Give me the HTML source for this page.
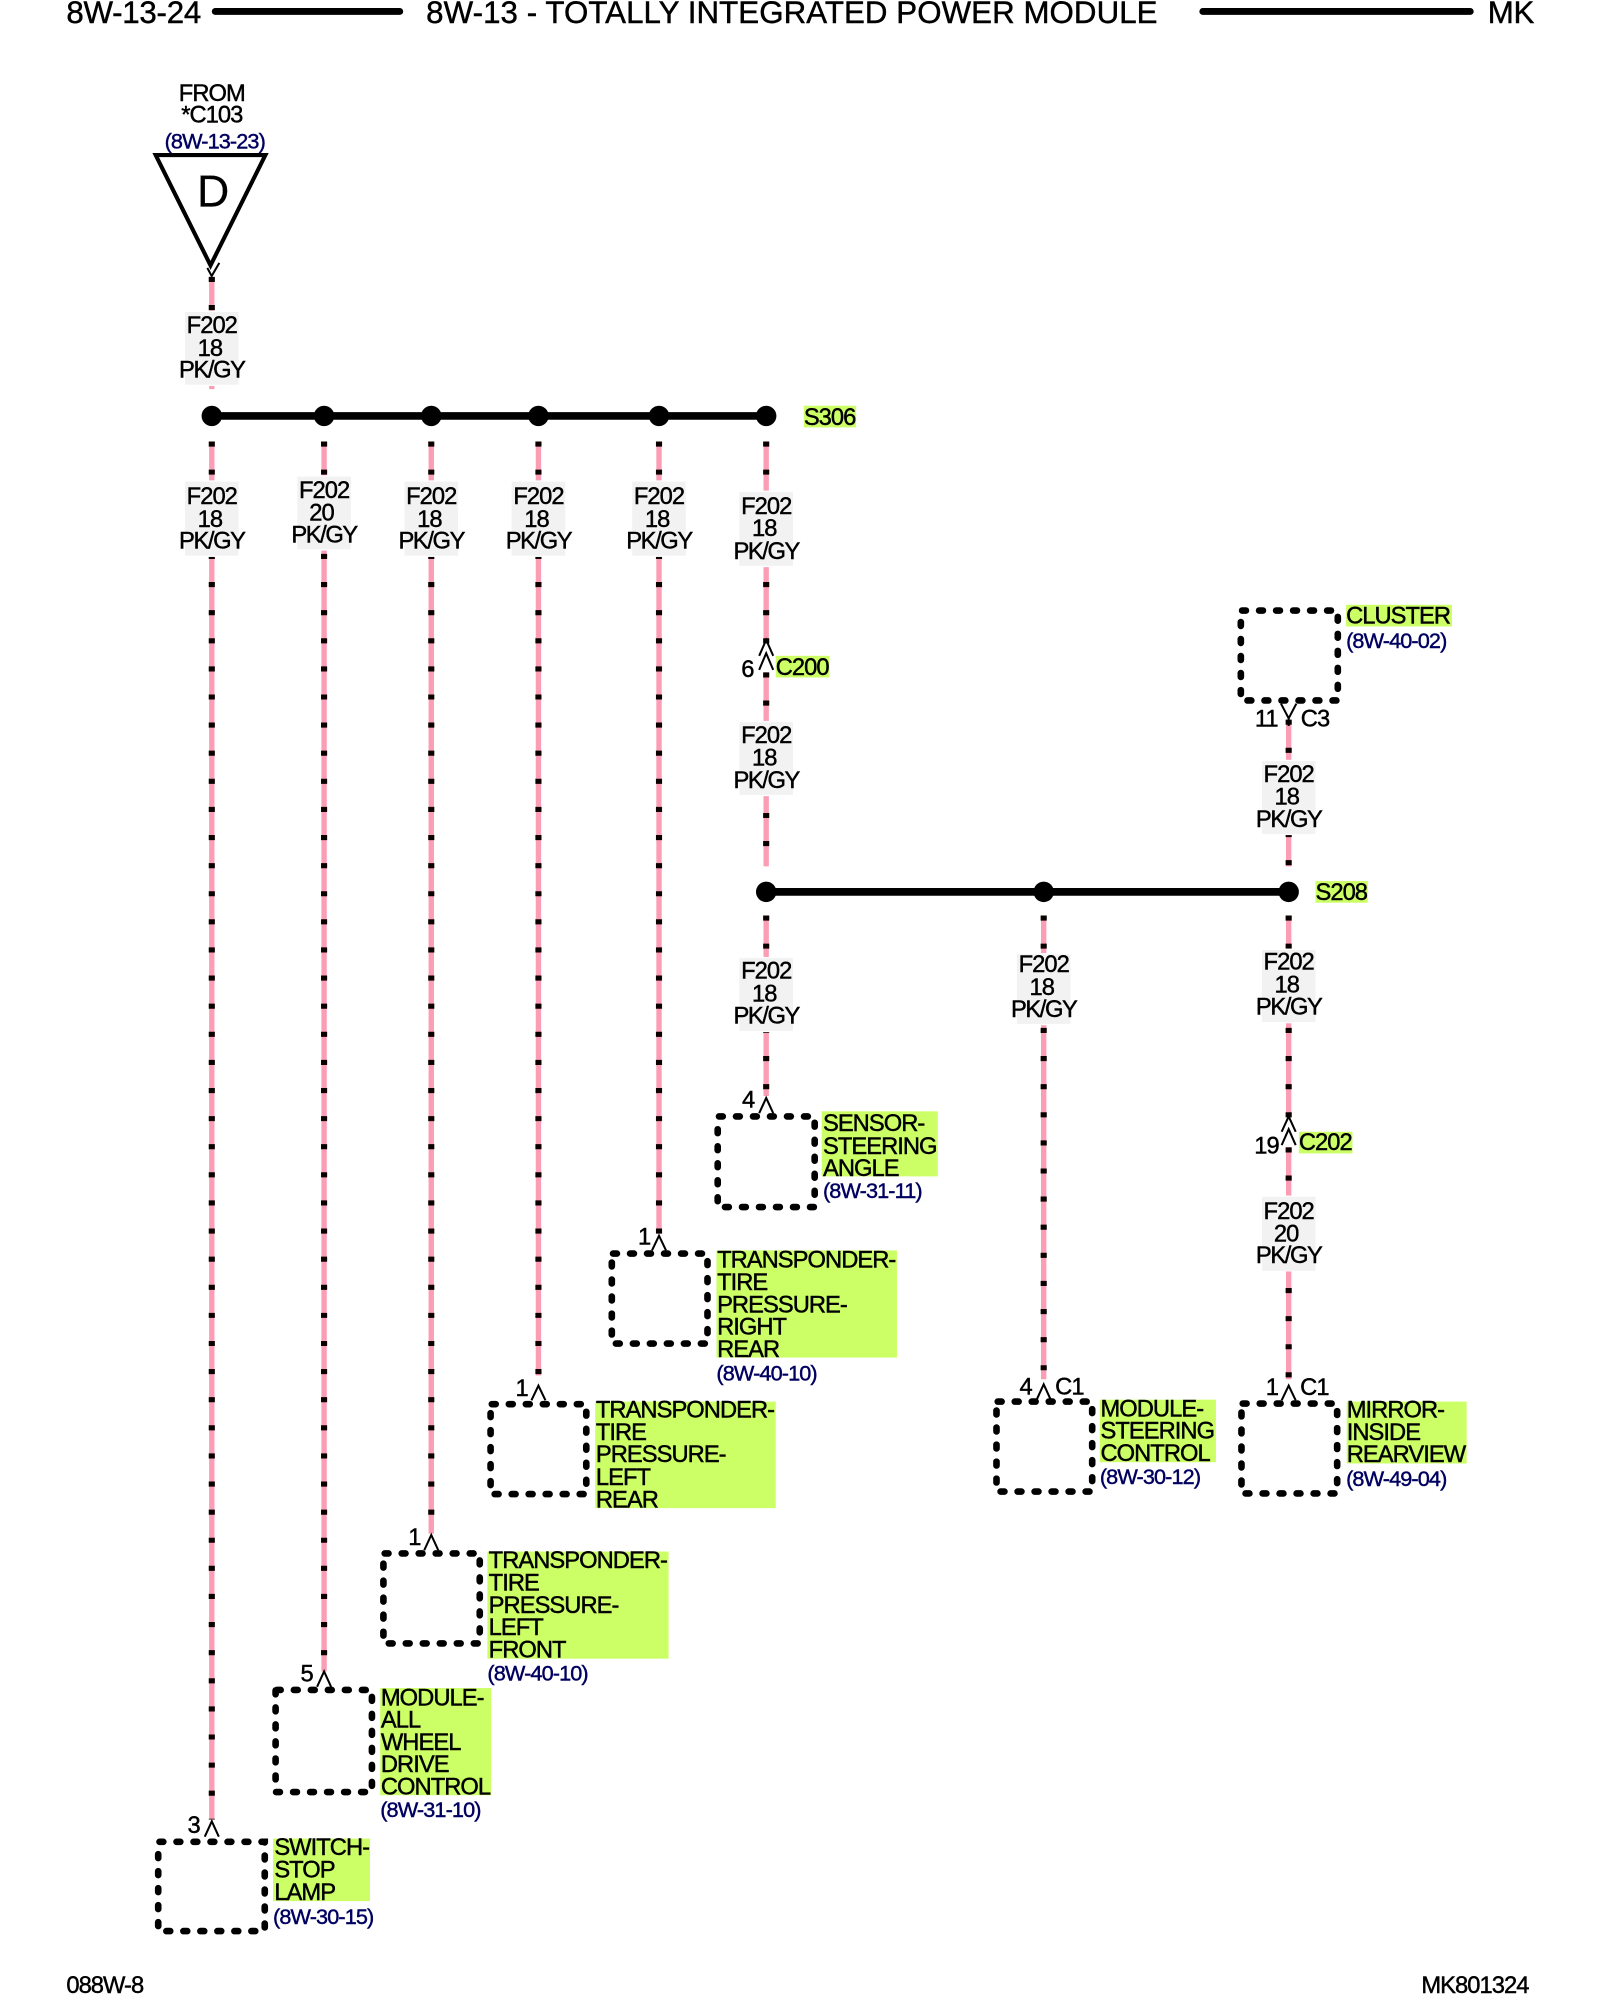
<!DOCTYPE html>
<html><head><meta charset="utf-8"><style>
html,body{margin:0;padding:0;background:#fff}
svg{display:block}
text{font-family:"Liberation Sans",sans-serif;fill:#000;stroke:#000;stroke-width:.35px}
.t{font-size:18.6px;letter-spacing:-.75px}
.m{font-size:18.6px;letter-spacing:-.75px;text-anchor:middle}
.k{letter-spacing:-1.1px}
.r{font-size:17px;letter-spacing:-.7px;fill:#000060;stroke:#000060}
.h{font-size:24.5px;letter-spacing:-.2px}
.p{stroke:#fb9db5;stroke-width:4.2;fill:none}
.d{stroke:#0a0000;stroke-width:4.8;stroke-dasharray:4 18.03;fill:none}
.g{fill:#f2f2f2}
.y{fill:#ccff66}
.c{stroke:#000;stroke-width:1.6;fill:none}
.b{stroke:#000;stroke-width:5.2;stroke-dasharray:3 10.33;stroke-dashoffset:12.33;stroke-linecap:round;fill:#fff}
.bus{stroke:#000;stroke-width:6}
</style></head><body>
<svg width="1600" height="2000" viewBox="0 0 1254 1567.5" xmlns="http://www.w3.org/2000/svg">
<rect width="1254" height="1567.5" fill="#fff"/>
<!-- header -->
<text class="h" x="52" y="18">8W-13-24</text>
<rect x="166" y="6.3" width="150" height="5.4" rx="2.7"/>
<text class="h" x="334" y="18" textLength="573">8W-13 - TOTALLY INTEGRATED POWER MODULE</text>
<rect x="940" y="6.3" width="215" height="5.4" rx="2.7"/>
<text class="h" x="1166" y="18">MK</text>
<!-- from -->
<text class="m" x="166" y="79">FROM</text>
<text class="m" x="166" y="96">*C103</text>
<text class="r" x="129" y="116.500">(8W-13-23)</text>
<path d="M122 121.500H208L165 208Z" fill="#fff" stroke="#000" stroke-width="3.2"/>
<text x="167" y="162" font-size="35" text-anchor="middle" style="stroke-width:.2px">D</text>
<path class="c" d="M162.500 210L165.900 216.300L171.900 206"/>
<!-- wires: pink -->
<path class="p" d="M166 217V305M166 346V1426M254 346V1310M338 346V1202M422 346V1078M516.500 346V966M600.500 346V501M600.500 527V679M600.500 720V859M818 720V1081M1010 720V875M1010 899V1081M1010 564V679"/>
<!-- wires: dots -->
<path class="d" d="M166 217V245M166 346V1426M254 346V1310M338 346V1202M422 346V1079M516.500 346V967M600.500 346V505M600.500 527V679M600.500 717.500V861M818 717.500V1081M1010 717.500V878M1010 899.300V1081M1010 564V679"/>
<!-- gray label boxes -->
<g>
<rect fill="#fff" x="140" y="243.500" width="52" height="59"/><rect class="g" x="145" y="244.500" width="42" height="57"/>
<rect fill="#fff" x="140" y="376.500" width="52" height="60"/><rect class="g" x="145" y="377.500" width="42" height="58"/>
<rect fill="#fff" x="228" y="372.500" width="52" height="59"/><rect class="g" x="233" y="373.500" width="42" height="57"/>
<rect fill="#fff" x="312" y="376.500" width="52" height="60"/><rect class="g" x="317" y="377.500" width="42" height="58"/>
<rect fill="#fff" x="396" y="376.500" width="52" height="60"/><rect class="g" x="401" y="377.500" width="42" height="58"/>
<rect fill="#fff" x="490.500" y="376.500" width="52" height="60"/><rect class="g" x="495.500" y="377.500" width="42" height="58"/>
<rect fill="#fff" x="574.500" y="384.500" width="52" height="60"/><rect class="g" x="579.500" y="385.500" width="42" height="58"/>
<rect fill="#fff" x="574.500" y="565" width="52" height="59"/><rect class="g" x="579.500" y="566" width="42" height="57"/>
<rect fill="#fff" x="574.500" y="750" width="52" height="59"/><rect class="g" x="579.500" y="751" width="42" height="57"/>
<rect fill="#fff" x="792" y="747" width="52" height="56.500"/><rect class="g" x="797" y="748" width="42" height="54.500"/>
<rect fill="#fff" x="984" y="743.500" width="52" height="58.500"/><rect class="g" x="989" y="744.500" width="42" height="56.500"/>
<rect fill="#fff" x="984" y="937" width="52" height="59.500"/><rect class="g" x="989" y="938" width="42" height="58"/>
<rect fill="#fff" x="984" y="595.500" width="52" height="59"/><rect class="g" x="989" y="596.500" width="42" height="57"/>
</g>
<!-- wire labels -->
<g>
<text class="m" x="166" y="261">F202</text><text class="m" x="164.500" y="279">18</text><text class="m k" x="166" y="296">PK/GY</text>
<text class="m" x="166" y="395">F202</text><text class="m" x="164.500" y="413">18</text><text class="m k" x="166" y="430">PK/GY</text>
<text class="m" x="254" y="390.500">F202</text><text class="m" x="252" y="408">20</text><text class="m k" x="254" y="425">PK/GY</text>
<text class="m" x="338" y="395">F202</text><text class="m" x="336.500" y="413">18</text><text class="m k" x="338" y="430">PK/GY</text>
<text class="m" x="422" y="395">F202</text><text class="m" x="420.500" y="413">18</text><text class="m k" x="422" y="430">PK/GY</text>
<text class="m" x="516.500" y="395">F202</text><text class="m" x="515" y="413">18</text><text class="m k" x="516.500" y="430">PK/GY</text>
<text class="m" x="600.500" y="403">F202</text><text class="m" x="599" y="420">18</text><text class="m k" x="600.500" y="438">PK/GY</text>
<text class="m" x="600.500" y="582.500">F202</text><text class="m" x="599" y="600">18</text><text class="m k" x="600.500" y="617.500">PK/GY</text>
<text class="m" x="600.500" y="767">F202</text><text class="m" x="599" y="785">18</text><text class="m k" x="600.500" y="802">PK/GY</text>
<text class="m" x="818" y="762">F202</text><text class="m" x="816.500" y="780">18</text><text class="m k" x="818" y="797">PK/GY</text>
<text class="m" x="1010" y="760">F202</text><text class="m" x="1008.500" y="778">18</text><text class="m k" x="1010" y="795">PK/GY</text>
<text class="m" x="1010" y="955.500">F202</text><text class="m" x="1008" y="973">20</text><text class="m k" x="1010" y="990">PK/GY</text>
<text class="m" x="1010" y="613">F202</text><text class="m" x="1008.500" y="630.500">18</text><text class="m k" x="1010" y="648">PK/GY</text>
</g>
<!-- buses -->
<line class="bus" x1="166" y1="326" x2="600.5" y2="326"/>
<line class="bus" x1="600.5" y1="699" x2="1010" y2="699"/>
<g>
<circle cx="166" cy="326" r="8"/><circle cx="254" cy="326" r="8"/><circle cx="338" cy="326" r="8"/><circle cx="422" cy="326" r="8"/><circle cx="516.500" cy="326" r="8"/><circle cx="600.500" cy="326" r="8"/>
<circle cx="600.500" cy="699" r="8"/><circle cx="818" cy="699" r="8"/><circle cx="1010" cy="699" r="8"/>
</g>
<rect class="y" x="630" y="318" width="41" height="17"/><text class="t" x="630" y="333">S306</text>
<rect class="y" x="1031" y="690.500" width="41" height="17"/><text class="t" x="1031" y="705.500">S208</text>
<!-- inline connectors -->
<path class="c" d="M595 514L600.500 501.500L606 514M595 525L600.500 512L606 525"/>
<text class="t" x="581" y="530.500">6</text>
<rect class="y" x="608" y="514" width="42" height="17"/><text class="t" x="608" y="529">C200</text>
<path class="c" d="M1004.500 887L1010 875L1015.500 887M1004.500 897.500L1010 885L1015.500 897.500"/>
<text class="t" x="983" y="904">19</text>
<rect class="y" x="1018" y="887" width="42" height="17"/><text class="t" x="1018" y="901.500">C202</text>
<!-- modules -->
<rect class="b" x="972.500" y="478.500" width="76" height="70.500"/>
<rect class="b" x="562.500" y="875" width="76" height="71"/>
<rect class="b" x="479.500" y="982.500" width="75" height="70.500"/>
<rect class="b" x="384.500" y="1100.500" width="75" height="70.500"/>
<rect class="b" x="300.500" y="1217.500" width="75.500" height="70.500"/>
<rect class="b" x="216" y="1324.500" width="75.500" height="80"/>
<rect class="b" x="124" y="1443.500" width="83.500" height="70"/>
<rect class="b" x="781" y="1098.500" width="75" height="70.500"/>
<rect class="b" x="973" y="1100" width="75" height="70.500"/>
<!-- connector chevrons -->
<path class="c" d="M160.500 1439.500L166 1427.500L171.500 1439.500M248.500 1322L254 1310L259.500 1322M332.500 1215L338 1203L343.500 1215M416.500 1097.500L422 1086L427.500 1097.500M511 980L516.500 968.500L522 980M595 872.500L600.500 860.500L606 872.500M812.500 1097L818 1085L823.500 1097M1004.500 1097.500L1010 1086L1015.500 1097.500M1004 551.500L1010 563L1016 551.500"/>
<path class="c" d="M1010 563V569"/>
<text class="t" x="147" y="1436.500">3</text>
<text class="t" x="235.500" y="1318">5</text>
<text class="t" x="320" y="1211">1</text>
<text class="t" x="404" y="1094">1</text>
<text class="t" x="500" y="975.500">1</text>
<text class="t" x="581.500" y="868">4</text>
<text class="t" x="799" y="1093">4</text><text class="t" x="827" y="1093">C1</text>
<text class="t" x="992" y="1093.500">1</text><text class="t" x="1019" y="1093.500">C1</text>
<text class="t" x="983.500" y="569.500">11</text><text class="t" x="1019.500" y="569.500">C3</text>
<!-- module labels -->
<rect class="y" x="1055" y="474" width="83" height="17"/><text class="t" x="1055" y="488.500">CLUSTER</text><text class="r" x="1055" y="508">(8W-40-02)</text>
<rect class="y" x="644" y="871" width="91" height="51"/><text class="t" x="645" y="886.500">SENSOR-</text><text class="t" x="645" y="904.500">STEERING</text><text class="t" x="645" y="921.500">ANGLE</text><text class="r" x="645" y="939">(8W-31-11)</text>
<rect class="y" x="561.500" y="980" width="141.500" height="84"/><text class="t" x="562" y="993.500">TRANSPONDER-</text><text class="t" x="562" y="1011">TIRE</text><text class="t" x="562" y="1028.500">PRESSURE-</text><text class="t" x="562" y="1046">RIGHT</text><text class="t" x="562" y="1063.500">REAR</text><text class="r" x="561.500" y="1082">(8W-40-10)</text>
<rect class="y" x="466.500" y="1098.500" width="141.500" height="83.500"/><text class="t" x="467" y="1111">TRANSPONDER-</text><text class="t" x="467" y="1128.500">TIRE</text><text class="t" x="467" y="1146">PRESSURE-</text><text class="t" x="467" y="1164">LEFT</text><text class="t" x="467" y="1181.500">REAR</text>
<rect class="y" x="382" y="1216" width="142" height="84"/><text class="t" x="383" y="1229">TRANSPONDER-</text><text class="t" x="383" y="1246.500">TIRE</text><text class="t" x="383" y="1264">PRESSURE-</text><text class="t" x="383" y="1281.500">LEFT</text><text class="t" x="383" y="1299">FRONT</text><text class="r" x="382" y="1317">(8W-40-10)</text>
<rect class="y" x="298" y="1323" width="87" height="84"/><text class="t" x="298.500" y="1336.500">MODULE-</text><text class="t" x="298.500" y="1354">ALL</text><text class="t" x="298.500" y="1371.500">WHEEL</text><text class="t" x="298.500" y="1389">DRIVE</text><text class="t" x="298.500" y="1406.500">CONTROL</text><text class="r" x="298" y="1424">(8W-31-10)</text>
<rect class="y" x="214" y="1441" width="76" height="49"/><text class="t" x="215" y="1454">SWITCH-</text><text class="t" x="215" y="1471.500">STOP</text><text class="t" x="215" y="1489">LAMP</text><text class="r" x="214" y="1508">(8W-30-15)</text>
<rect class="y" x="862" y="1097" width="91" height="49"/><text class="t" x="862.500" y="1110">MODULE-</text><text class="t" x="862.500" y="1127.500">STEERING</text><text class="t" x="862.500" y="1145">CONTROL</text><text class="r" x="862" y="1163">(8W-30-12)</text>
<rect class="y" x="1055.500" y="1098.500" width="94" height="48.500"/><text class="t" x="1055.500" y="1111">MIRROR-</text><text class="t" x="1055.500" y="1128.500">INSIDE</text><text class="t" x="1055.500" y="1146">REARVIEW</text><text class="r" x="1055" y="1164.500">(8W-49-04)</text>
<!-- footer -->
<text class="t" x="52" y="1562">088W-8</text>
<text class="t" x="1114" y="1562">MK801324</text>
</svg>
</body></html>
